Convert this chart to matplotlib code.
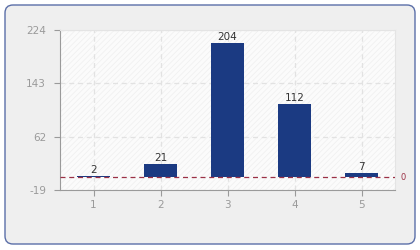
import matplotlib

matplotlib.use("Agg")
import matplotlib.pyplot as plt
from matplotlib.patches import FancyBboxPatch, Rectangle
from matplotlib.transforms import IdentityTransform

categories = [1, 2, 3, 4, 5]
values = [2, 21, 204, 112, 7]
y_ticks = [-19, 62, 143, 224]

BAR = "#1b3a82"
GRID = "#e2e2e2"
AXIS = "#9a9a9a"
ZERO = "#9b3045"

plt.rcParams["hatch.linewidth"] = 0.5
plt.rcParams["axes.unicode_minus"] = False

fig = plt.figure(figsize=(4.2, 2.5), dpi=100)
fig.patch.set_facecolor("white")

# rounded panel behind the chart
panel = FancyBboxPatch((5, 6), 410, 239, boxstyle="round,pad=0,rounding_size=8",
                       transform=IdentityTransform(), facecolor="#efefef",
                       edgecolor="#5b6fa8", linewidth=1.0, zorder=-10)
fig.patches.append(panel)

ax = fig.add_axes([60 / 420, 60 / 250, 335 / 420, 160 / 250])
ax.set_zorder(1)
ax.set_facecolor("#fbfbfb")
ax.add_patch(Rectangle((0, 0), 1, 1, transform=ax.transAxes, facecolor="none",
                       edgecolor="#efefef", hatch="//////", linewidth=0, zorder=0))

ax.bar(categories, values, width=0.5, color=BAR, zorder=3)
for x, v in zip(categories, values):
    ax.text(x, v + 1.5, str(v), ha="center", va="bottom", fontsize=7.5, color="#333333", zorder=4)

ax.axhline(0, color=ZERO, linestyle=(0, (4, 3)), linewidth=0.9, zorder=4)
ax.text(1.015, 0, "0", transform=ax.get_yaxis_transform(), ha="left", va="center",
        fontsize=6, color=ZERO)

ax.set_xlim(0.5, 5.5)
ax.set_ylim(y_ticks[0], y_ticks[-1])
ax.set_xticks(categories)
ax.set_yticks(y_ticks)
ax.grid(True, color=GRID, linestyle=(0, (4, 3)), linewidth=0.9, zorder=1)
ax.set_axisbelow(True)

for side in ["top", "right"]:
    ax.spines[side].set_color("#e4e4e4")
for side in ["left", "bottom"]:
    ax.spines[side].set_color(AXIS)
ax.tick_params(colors=AXIS, labelcolor="#9a9a9a", labelsize=7.5, length=4, width=0.8)
ax.tick_params(axis="y", pad=6)

fig.savefig("out.png", dpi=100)
